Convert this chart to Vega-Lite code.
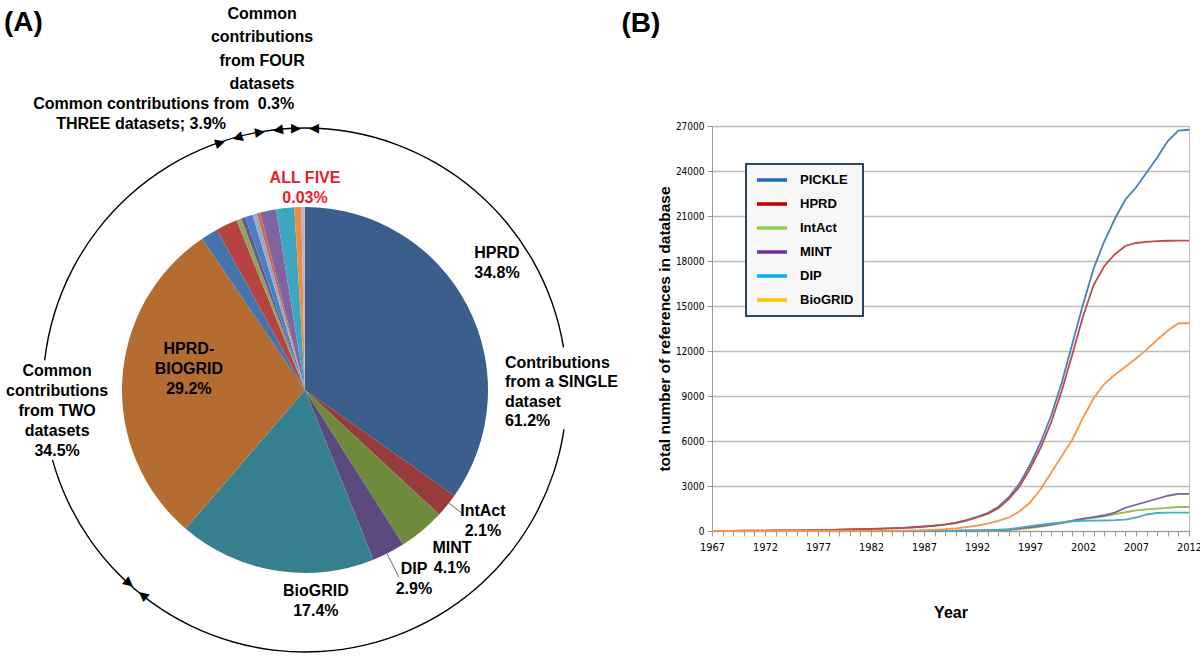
{
  "$schema": "https://vega.github.io/schema/vega-lite/v6.json",
  "padding": {"left": 0, "right": 0, "top": 5, "bottom": 0},
  "background": "white",
  "spacing": 2,
  "resolve": {"scale": {"color": "independent"}},
  "config": {
    "font": "Liberation Sans",
    "view": {"stroke": null},
    "title": {"fontSize": 28, "fontWeight": "bold", "anchor": "start", "color": "black", "font": "Liberation Sans"}
  },
  "hconcat": [
    {
      "width": 610,
      "height": 528,
      "title": {"text": "(A)", "dx": 4, "offset": -31},
      "layer": [
        {
          "data": {"values": [
            {"k": 1, "slice": "HPRD", "pct": 34.8},
            {"k": 2, "slice": "IntAct", "pct": 2.1},
            {"k": 3, "slice": "MINT", "pct": 4.1},
            {"k": 4, "slice": "DIP", "pct": 2.9},
            {"k": 5, "slice": "BioGRID", "pct": 17.4},
            {"k": 6, "slice": "HPRD-BIOGRID", "pct": 29.2},
            {"k": 7, "slice": "two-a", "pct": 1.5},
            {"k": 8, "slice": "two-b", "pct": 1.9},
            {"k": 9, "slice": "two-c", "pct": 0.45},
            {"k": 10, "slice": "two-d", "pct": 0.35},
            {"k": 11, "slice": "two-e", "pct": 0.67},
            {"k": 12, "slice": "two-f", "pct": 0.4},
            {"k": 13, "slice": "three-a", "pct": 0.3},
            {"k": 14, "slice": "three-b", "pct": 1.4},
            {"k": 15, "slice": "three-c", "pct": 1.6},
            {"k": 16, "slice": "three-d", "pct": 0.6},
            {"k": 17, "slice": "four", "pct": 0.3},
            {"k": 18, "slice": "five", "pct": 0.03}
          ]},
          "mark": {"type": "arc", "radius": 183},
          "encoding": {
            "theta": {"field": "pct", "type": "quantitative", "stack": true, "scale": {"domain": [0, 100]}},
            "order": {"field": "k", "type": "quantitative"},
            "color": {
              "field": "slice", "type": "nominal", "legend": null,
              "scale": {
                "domain": ["HPRD", "IntAct", "MINT", "DIP", "BioGRID", "HPRD-BIOGRID", "two-a", "two-b", "two-c", "two-d", "two-e", "two-f", "three-a", "three-b", "three-c", "three-d", "four", "five"],
                "range": ["#3b5e8c", "#963c3b", "#6e8b3d", "#5c4a7e", "#357f8f", "#b46c31", "#4374ad", "#b44341", "#8ca653", "#6a5690", "#4a80bf", "#98a9cf", "#d0694a", "#8064a2", "#3fa6c0", "#eb8f3f", "#b9b0d0", "#c9a0a0"]
              }
            }
          }
        },
        {
          "data": {"values": [
            {"a0": 0, "a1": 22.4},
            {"a0": 27.4, "a1": 70.7},
            {"a0": 76.8, "a1": 100}
          ]},
          "mark": {"type": "arc", "radius": 262.7, "radius2": 261.3, "color": "black"},
          "encoding": {
            "theta": {"field": "a0", "type": "quantitative", "stack": null, "scale": {"domain": [0, 100]}},
            "theta2": {"field": "a1"}
          }
        },
        {
          "data": {"values": [
            {"at": 35.6, "r0": 0.7, "r1": 0.758},
            {"at": 42.6, "r0": 0.7, "r1": 0.8}
          ]},
          "mark": {"type": "arc", "stroke": "#8a8a8a", "strokeWidth": 1, "fill": null},
          "encoding": {
            "theta": {"field": "at", "type": "quantitative", "stack": null, "scale": {"domain": [0, 100]}},
            "theta2": {"field": "at"},
            "radius": {"field": "r1", "type": "quantitative", "scale": {"type": "linear", "domain": [0, 1], "range": [0, 262]}},
            "radius2": {"field": "r0"}
          }
        },
        {
          "data": {"values": [{"b": 61.2}, {"b": 95.3}, {"b": 97.8}, {"b": 0}]},
          "mark": {"type": "text", "text": "▶", "font": "DejaVu Sans", "fontSize": 13, "radius": 262, "thetaOffset": -0.0345, "align": "center", "baseline": "middle", "color": "black"},
          "encoding": {
            "theta": {"field": "b", "type": "quantitative", "stack": null, "scale": {"domain": [0, 100]}},
            "angle": {"field": "b", "type": "quantitative", "scale": {"domain": [0, 100], "range": [0, 360]}}
          }
        },
        {
          "data": {"values": [{"b": 61.2}, {"b": 95.3}, {"b": 97.8}, {"b": 0}]},
          "mark": {"type": "text", "text": "◀", "font": "DejaVu Sans", "fontSize": 13, "radius": 262, "thetaOffset": 0.0345, "align": "center", "baseline": "middle", "color": "black"},
          "encoding": {
            "theta": {"field": "b", "type": "quantitative", "stack": null, "scale": {"domain": [0, 100]}},
            "angle": {"field": "b", "type": "quantitative", "scale": {"domain": [0, 100], "range": [0, 360]}}
          }
        },
        {
          "data": {"values": [
            {"t": "HPRD\n34.8%", "at": 15.14, "dist": 0.9},
            {"t": "IntAct\n2.1%", "at": 34.5, "dist": 0.821},
            {"t": "MINT\n4.1%", "at": 38.07, "dist": 0.824},
            {"t": "DIP\n2.9%", "at": 41.3, "dist": 0.8},
            {"t": "BioGRID\n17.4%", "at": 49.14, "dist": 0.768},
            {"t": "HPRD-\nBIOGRID\n29.2%", "at": 80.4, "dist": 0.47},
            {"t": "Common\ncontributions\nfrom TWO\ndatasets\n34.5%", "at": 76.22, "dist": 0.949},
            {"t": "Common contributions from\nTHREE datasets; 3.9%", "at": 91.72, "dist": 1.258},
            {"t": "0.3%", "at": 98.39, "dist": 1.097}
          ]},
          "mark": {"type": "text", "font": "Liberation Sans", "fontWeight": "bold", "fontSize": 16, "lineBreak": "\n", "lineHeight": 20, "align": "center", "baseline": "middle", "color": "black"},
          "encoding": {
            "theta": {"field": "at", "type": "quantitative", "stack": null, "scale": {"domain": [0, 100]}},
            "radius": {"field": "dist", "type": "quantitative", "scale": {"type": "linear", "domain": [0, 1], "range": [0, 262]}},
            "text": {"field": "t"}
          }
        },
        {
          "data": {"values": [
            {"t": "Common\ncontributions\nfrom FOUR\ndatasets", "at": 98.19, "dist": 1.445}
          ]},
          "mark": {"type": "text", "font": "Liberation Sans", "fontWeight": "bold", "fontSize": 16, "lineBreak": "\n", "lineHeight": 23.5, "align": "center", "baseline": "middle", "color": "black"},
          "encoding": {
            "theta": {"field": "at", "type": "quantitative", "stack": null, "scale": {"domain": [0, 100]}},
            "radius": {"field": "dist", "type": "quantitative", "scale": {"type": "linear", "domain": [0, 1], "range": [0, 262]}},
            "text": {"field": "t"}
          }
        },
        {
          "data": {"values": [
            {"t": "ALL FIVE\n0.03%", "at": 0, "dist": 0.809}
          ]},
          "mark": {"type": "text", "font": "Liberation Sans", "fontWeight": "bold", "fontSize": 16, "lineBreak": "\n", "lineHeight": 20, "align": "center", "baseline": "middle", "color": "#e8202a"},
          "encoding": {
            "theta": {"field": "at", "type": "quantitative", "stack": null, "scale": {"domain": [0, 100]}},
            "radius": {"field": "dist", "type": "quantitative", "scale": {"type": "linear", "domain": [0, 1], "range": [0, 262]}},
            "text": {"field": "t"}
          }
        },
        {
          "data": {"values": [
            {"t": "Contributions\nfrom a SINGLE\ndataset\n61.2%", "at": 22.86, "dist": 0.77}
          ]},
          "mark": {"type": "text", "font": "Liberation Sans", "fontWeight": "bold", "fontSize": 16, "lineBreak": "\n", "lineHeight": 19.5, "align": "left", "baseline": "middle", "color": "black"},
          "encoding": {
            "theta": {"field": "at", "type": "quantitative", "stack": null, "scale": {"domain": [0, 100]}},
            "radius": {"field": "dist", "type": "quantitative", "scale": {"type": "linear", "domain": [0, 1], "range": [0, 262]}},
            "text": {"field": "t"}
          }
        }
      ]
    },
    {
      "width": 477,
      "height": 405,
      "title": {"text": "(B)", "dx": -36, "offset": 83},
      "view": {"stroke": "#bdbdbd", "strokeWidth": 1},
      "data": {"values": [
        {"year": 1967, "PICKLE": 5, "HPRD": 5, "IntAct": 0, "MINT": 0, "DIP": 0, "BioGRID": 0},
        {"year": 1968, "PICKLE": 10, "HPRD": 10, "IntAct": 0, "MINT": 0, "DIP": 0, "BioGRID": 0},
        {"year": 1969, "PICKLE": 15, "HPRD": 14, "IntAct": 0, "MINT": 0, "DIP": 0, "BioGRID": 0},
        {"year": 1970, "PICKLE": 20, "HPRD": 19, "IntAct": 0, "MINT": 0, "DIP": 0, "BioGRID": 0},
        {"year": 1971, "PICKLE": 25, "HPRD": 24, "IntAct": 0, "MINT": 0, "DIP": 0, "BioGRID": 0},
        {"year": 1972, "PICKLE": 30, "HPRD": 29, "IntAct": 0, "MINT": 0, "DIP": 0, "BioGRID": 0},
        {"year": 1973, "PICKLE": 35, "HPRD": 34, "IntAct": 0, "MINT": 0, "DIP": 0, "BioGRID": 0},
        {"year": 1974, "PICKLE": 40, "HPRD": 38, "IntAct": 0, "MINT": 0, "DIP": 0, "BioGRID": 0},
        {"year": 1975, "PICKLE": 45, "HPRD": 43, "IntAct": 0, "MINT": 0, "DIP": 0, "BioGRID": 0},
        {"year": 1976, "PICKLE": 50, "HPRD": 48, "IntAct": 0, "MINT": 0, "DIP": 0, "BioGRID": 0},
        {"year": 1977, "PICKLE": 55, "HPRD": 53, "IntAct": 0, "MINT": 0, "DIP": 0, "BioGRID": 0},
        {"year": 1978, "PICKLE": 60, "HPRD": 58, "IntAct": 0, "MINT": 0, "DIP": 0, "BioGRID": 0},
        {"year": 1979, "PICKLE": 95, "HPRD": 92, "IntAct": 0, "MINT": 0, "DIP": 0, "BioGRID": 5},
        {"year": 1980, "PICKLE": 110, "HPRD": 106, "IntAct": 0, "MINT": 0, "DIP": 0, "BioGRID": 8},
        {"year": 1981, "PICKLE": 125, "HPRD": 120, "IntAct": 0, "MINT": 0, "DIP": 0, "BioGRID": 10},
        {"year": 1982, "PICKLE": 140, "HPRD": 135, "IntAct": 0, "MINT": 0, "DIP": 0, "BioGRID": 12},
        {"year": 1983, "PICKLE": 160, "HPRD": 155, "IntAct": 0, "MINT": 0, "DIP": 0, "BioGRID": 15},
        {"year": 1984, "PICKLE": 185, "HPRD": 180, "IntAct": 0, "MINT": 0, "DIP": 0, "BioGRID": 20},
        {"year": 1985, "PICKLE": 215, "HPRD": 208, "IntAct": 0, "MINT": 0, "DIP": 5, "BioGRID": 28},
        {"year": 1986, "PICKLE": 250, "HPRD": 242, "IntAct": 2, "MINT": 2, "DIP": 8, "BioGRID": 40},
        {"year": 1987, "PICKLE": 300, "HPRD": 290, "IntAct": 5, "MINT": 4, "DIP": 10, "BioGRID": 55},
        {"year": 1988, "PICKLE": 360, "HPRD": 350, "IntAct": 8, "MINT": 6, "DIP": 14, "BioGRID": 80},
        {"year": 1989, "PICKLE": 440, "HPRD": 425, "IntAct": 12, "MINT": 9, "DIP": 18, "BioGRID": 120},
        {"year": 1990, "PICKLE": 550, "HPRD": 530, "IntAct": 18, "MINT": 12, "DIP": 24, "BioGRID": 180},
        {"year": 1991, "PICKLE": 720, "HPRD": 690, "IntAct": 25, "MINT": 18, "DIP": 32, "BioGRID": 260},
        {"year": 1992, "PICKLE": 950, "HPRD": 900, "IntAct": 32, "MINT": 25, "DIP": 42, "BioGRID": 360},
        {"year": 1993, "PICKLE": 1200, "HPRD": 1140, "IntAct": 40, "MINT": 40, "DIP": 58, "BioGRID": 490},
        {"year": 1994, "PICKLE": 1600, "HPRD": 1520, "IntAct": 50, "MINT": 65, "DIP": 85, "BioGRID": 680},
        {"year": 1995, "PICKLE": 2250, "HPRD": 2120, "IntAct": 65, "MINT": 100, "DIP": 130, "BioGRID": 900},
        {"year": 1996, "PICKLE": 3150, "HPRD": 2950, "IntAct": 120, "MINT": 170, "DIP": 220, "BioGRID": 1300},
        {"year": 1997, "PICKLE": 4400, "HPRD": 4150, "IntAct": 200, "MINT": 260, "DIP": 330, "BioGRID": 1900},
        {"year": 1998, "PICKLE": 5900, "HPRD": 5550, "IntAct": 300, "MINT": 350, "DIP": 420, "BioGRID": 2780},
        {"year": 1999, "PICKLE": 7700, "HPRD": 7250, "IntAct": 400, "MINT": 440, "DIP": 500, "BioGRID": 3890},
        {"year": 2000, "PICKLE": 9900, "HPRD": 9350, "IntAct": 520, "MINT": 560, "DIP": 580, "BioGRID": 5000},
        {"year": 2001, "PICKLE": 12500, "HPRD": 11800, "IntAct": 650, "MINT": 690, "DIP": 650, "BioGRID": 6100},
        {"year": 2002, "PICKLE": 15100, "HPRD": 14300, "IntAct": 780, "MINT": 820, "DIP": 680, "BioGRID": 7550},
        {"year": 2003, "PICKLE": 17500, "HPRD": 16400, "IntAct": 870, "MINT": 930, "DIP": 690, "BioGRID": 8850},
        {"year": 2004, "PICKLE": 19300, "HPRD": 17650, "IntAct": 980, "MINT": 1050, "DIP": 700, "BioGRID": 9800},
        {"year": 2005, "PICKLE": 20800, "HPRD": 18450, "IntAct": 1120, "MINT": 1230, "DIP": 720, "BioGRID": 10420},
        {"year": 2006, "PICKLE": 22100, "HPRD": 19000, "IntAct": 1250, "MINT": 1550, "DIP": 760, "BioGRID": 10950},
        {"year": 2007, "PICKLE": 22900, "HPRD": 19200, "IntAct": 1370, "MINT": 1750, "DIP": 900, "BioGRID": 11500},
        {"year": 2008, "PICKLE": 23900, "HPRD": 19280, "IntAct": 1440, "MINT": 1950, "DIP": 1100, "BioGRID": 12090},
        {"year": 2009, "PICKLE": 24900, "HPRD": 19330, "IntAct": 1490, "MINT": 2150, "DIP": 1200, "BioGRID": 12750},
        {"year": 2010, "PICKLE": 26000, "HPRD": 19350, "IntAct": 1540, "MINT": 2350, "DIP": 1230, "BioGRID": 13370},
        {"year": 2011, "PICKLE": 26700, "HPRD": 19360, "IntAct": 1600, "MINT": 2480, "DIP": 1230, "BioGRID": 13850},
        {"year": 2012, "PICKLE": 26750, "HPRD": 19360, "IntAct": 1600, "MINT": 2480, "DIP": 1230, "BioGRID": 13850}
      ]},
      "transform": [{"fold": ["PICKLE", "HPRD", "IntAct", "MINT", "DIP", "BioGRID"], "as": ["db", "n"]}],
      "encoding": {
        "x": {
          "field": "year", "type": "quantitative",
          "scale": {"domain": [1967, 2012], "nice": false, "zero": false},
          "axis": {
            "values": [1967,1968,1969,1970,1971,1972,1973,1974,1975,1976,1977,1978,1979,1980,1981,1982,1983,1984,1985,1986,1987,1988,1989,1990,1991,1992,1993,1994,1995,1996,1997,1998,1999,2000,2001,2002,2003,2004,2005,2006,2007,2008,2009,2010,2011,2012],
            "format": "d",
            "labelExpr": "(datum.value - 1967) % 5 == 0 ? datum.label : ''",
            "labelOverlap": false,
            "labelFlush": false,
            "labelFont": "Liberation Sans Narrow, DejaVu Sans Condensed, Liberation Sans",
            "labelFontSize": 11,
            "labelColor": "black",
            "labelPadding": 5,
            "tickSize": 5,
            "tickColor": "#9a9a9a",
            "domainColor": "#9a9a9a",
            "grid": false,
            "title": "Year",
            "titleFont": "Liberation Sans",
            "titleFontSize": 16,
            "titleFontWeight": "bold",
            "titleColor": "black",
            "titlePadding": 52
          }
        },
        "y": {
          "field": "n", "type": "quantitative",
          "scale": {"domain": [0, 27000], "nice": false},
          "axis": {
            "values": [0, 3000, 6000, 9000, 12000, 15000, 18000, 21000, 24000, 27000],
            "format": "d",
            "labelFont": "Liberation Sans Narrow, DejaVu Sans Condensed, Liberation Sans",
            "labelFontSize": 10,
            "labelColor": "black",
            "labelPadding": 3,
            "tickSize": 5,
            "tickColor": "#9a9a9a",
            "domainColor": "#9a9a9a",
            "grid": true,
            "gridColor": "#bdbdbd",
            "gridWidth": 1.5,
            "title": "total number of references in database",
            "titleFont": "Liberation Sans",
            "titleFontSize": 15.5,
            "titleFontWeight": "bold",
            "titleColor": "black",
            "titlePadding": 3
          }
        }
      },
      "layer": [
        {
          "mark": {"type": "line", "opacity": 0, "strokeWidth": 3.5},
          "encoding": {
            "stroke": {
              "field": "db", "type": "nominal",
              "scale": {"domain": ["PICKLE", "HPRD", "IntAct", "MINT", "DIP", "BioGRID"], "range": ["#2068b8", "#c00000", "#92d050", "#7030a0", "#00b0f0", "#ffc000"]},
              "legend": {
                "orient": "none", "legendX": 746, "legendY": 38, "title": null,
                "symbolType": "stroke", "symbolSize": 900, "symbolStrokeWidth": 3.5, "symbolOpacity": 1,
                "labelFont": "Liberation Sans", "labelFontWeight": "bold", "labelFontSize": 13, "labelColor": "black",
                "labelOffset": 11, "rowPadding": 10, "clipHeight": 14, "padding": 9,
                "fillColor": "#f7f7f7", "strokeColor": "#2d4565",
                "encode": {"legend": {"update": {"strokeWidth": {"value": 2}}}}
              }
            }
          }
        },
        {
          "mark": {"type": "line", "strokeWidth": 1.8},
          "encoding": {
            "color": {
              "field": "db", "type": "nominal", "legend": null,
              "scale": {"domain": ["PICKLE", "HPRD", "IntAct", "MINT", "DIP", "BioGRID"], "range": ["#4a7ebb", "#be4b48", "#98b954", "#7d60a0", "#4bacc6", "#f79646"]}
            }
          }
        }
      ]
    }
  ]
}
